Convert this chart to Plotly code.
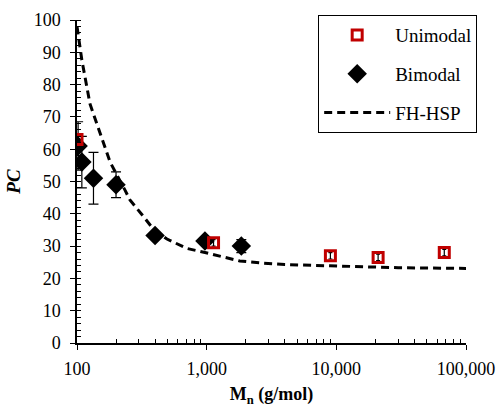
import plotly.graph_objects as go

# Unimodal data
uni_mn = [100, 1130, 9000, 21000, 68000]
uni_pc = [63, 31, 27, 26.5, 28]
uni_err = [1, 1, 1, 1, 1]

# Bimodal data
bi_mn = [102, 109, 134, 200, 400, 970, 1850]
bi_pc = [61, 56, 51, 49, 33.3, 31.6, 30]
bi_err = [7.5, 8, 8, 4, 1, 1, 2]

# FH-HSP model curve
fh_mn = [100, 109, 126, 134, 160, 180, 234, 256, 334, 355, 392, 494, 700, 970,
         1800, 2570, 4000, 8900, 30000, 100000]
fh_pc = [98, 87.6, 74, 71, 62, 56, 47.4, 44.3, 38.6, 37.1, 35, 32.2, 29.3, 28,
         25.4, 24.8, 24.3, 23.9, 23.3, 23.1]

x_ticks = [100, 1000, 10000, 100000]
x_labels = ["100", "1,000", "10,000", "100,000"]
x_minor = [m * d for d in (100, 1000, 10000) for m in range(2, 10)]

FONT = "Liberation Serif"

fig = go.Figure()

fig.add_trace(go.Scatter(
    x=fh_mn, y=fh_pc, mode="lines", name="FH-HSP",
    line=dict(color="black", width=3, dash="8px,5px"),
    legendrank=3, legendgroup="c",
))
fig.add_trace(go.Scatter(
    x=bi_mn, y=bi_pc, mode="markers", name="Bimodal",
    marker=dict(symbol="diamond", size=15, color="black"),
    error_y=dict(type="data", array=bi_err, color="black", thickness=1.2, width=5),
    legendrank=2, legendgroup="b",
))
fig.add_trace(go.Scatter(
    x=uni_mn, y=uni_pc, mode="markers", name="Unimodal",
    marker=dict(symbol="square-open", size=10, color="#C00000",
                line=dict(width=3, color="#C00000")),
    error_y=dict(type="data", array=uni_err, color="black", thickness=1.2, width=2),
    legendrank=1, legendgroup="a",
))

fig.update_layout(
    width=496, height=407,
    margin=dict(l=77, r=30, t=20, b=64, autoexpand=False),
    paper_bgcolor="white", plot_bgcolor="white",
    font=dict(family=FONT, size=19, color="black"),
    legend=dict(
        x=0.62, y=1.015, xanchor="left", yanchor="top",
        bgcolor="white", bordercolor="black", borderwidth=1,
        font=dict(family=FONT, size=19, color="black"),
        tracegroupgap=11, itemwidth=66,
    ),
    xaxis=dict(
        type="log", range=[2, 5], automargin=False,
        tickmode="array", tickvals=x_ticks, ticktext=x_labels,
        ticks="outside", ticklen=5, tickwidth=1.2, tickcolor="black",
        ticklabelstandoff=4, ticklabeloverflow="allow",
        tickfont=dict(family=FONT, size=18),
        showline=True, linecolor="black", linewidth=1.5,
        showgrid=False, zeroline=False,
        minor=dict(tickmode="array", tickvals=x_minor, ticks="inside", ticklen=4,
                   tickcolor="black", showgrid=False),
        title=dict(text="<b>M<sub>n</sub> (g/mol)</b>", font=dict(family=FONT, size=18), standoff=13),
    ),
    yaxis=dict(
        range=[0, 100], dtick=10, automargin=False,
        ticks="outside", ticklen=5, tickwidth=1.2, tickcolor="black",
        ticklabelstandoff=6, ticklabeloverflow="allow",
        tickfont=dict(family=FONT, size=18),
        showline=True, linecolor="black", linewidth=1.5,
        showgrid=False, zeroline=False,
        minor=dict(ticks="inside", ticklen=4, dtick=2, tickcolor="black", showgrid=False),
        title=dict(text="<b><i>PC</i></b>", font=dict(family=FONT, size=19), standoff=8),
    ),
)

fig.write_html("out.html")
